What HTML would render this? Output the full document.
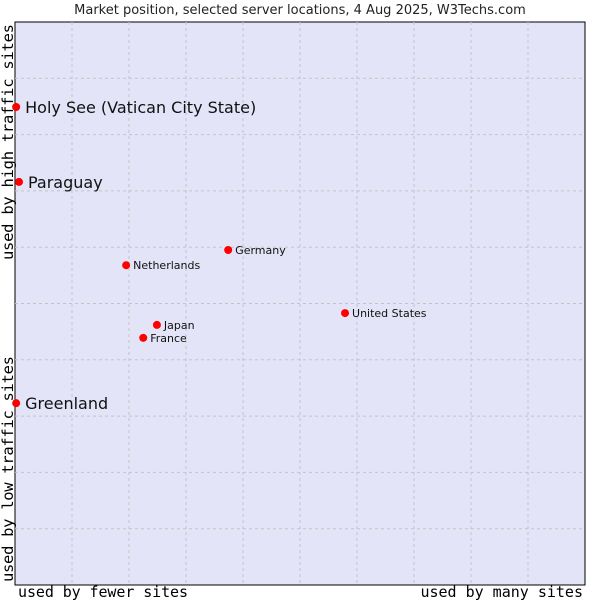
<!DOCTYPE html>
<html><head><meta charset="utf-8"><style>
body{margin:0;background:#fff;}
svg{display:block;font-family:"DejaVu Sans","Liberation Sans",sans-serif;}
</style></head><body>
<svg id="chart" width="600" height="600">
<text x="300" y="14" text-anchor="middle" font-size="13" fill="#222">Market position, selected server locations, 4 Aug 2025, W3Techs.com</text>
<rect x="15" y="22" width="570" height="563" fill="#e4e4f8" stroke="#000" stroke-width="1"/>
<g id="grid"></g>
<g id="pts"></g>
<text x="18" y="597" font-family="DejaVu Sans Mono,Liberation Mono,monospace" font-size="15" textLength="170">used by fewer sites</text>
<text x="583" y="597" text-anchor="end" font-family="DejaVu Sans Mono,Liberation Mono,monospace" font-size="15">used by many sites</text>
<text transform="translate(13,260) rotate(-90)" font-family="DejaVu Sans Mono,Liberation Mono,monospace" font-size="15.5" textLength="236">used by high traffic sites</text>
<text transform="translate(13,582) rotate(-90)" font-family="DejaVu Sans Mono,Liberation Mono,monospace" font-size="15.5" textLength="226">used by low traffic sites</text>
</svg>
<script>
const names=["Holy See (Vatican City State)","Paraguay","Greenland","Netherlands","Germany","United States","Japan","France"];
const xVals=[0.2,0.7,0.2,19.5,37.4,57.9,24.9,22.5];
const yVals=[84.9,71.6,32.3,56.8,59.5,48.3,46.2,43.9];
const bigLabel=[true,true,true,false,false,false,false,false];
const L=15,T=22,W=570,H=563;
const sx=v=>L+v/100*W, sy=v=>T+H-v/100*H;
const NS="http://www.w3.org/2000/svg";
const g=document.getElementById('grid');
for(let i=1;i<10;i++){
 const x=L+57*i;
 const l=document.createElementNS(NS,'line');
 l.setAttribute('x1',x);l.setAttribute('x2',x);l.setAttribute('y1',T);l.setAttribute('y2',T+H);
 l.setAttribute('stroke','#c4c4c4');l.setAttribute('stroke-dasharray','3,3');
 
 
 g.appendChild(l);
 const y=T+56.3*i;
 const h=document.createElementNS(NS,'line');
 h.setAttribute('x1',L);h.setAttribute('x2',L+W);h.setAttribute('y1',y);h.setAttribute('y2',y);
 h.setAttribute('stroke','#c4c4c4');h.setAttribute('stroke-dasharray','3,3');
 
 
 g.appendChild(h);
}
const p=document.getElementById('pts');
names.forEach((n,i)=>{
 const cx=sx(xVals[i]),cy=sy(yVals[i]);
 const c=document.createElementNS(NS,'circle');
 c.setAttribute('cx',cx);c.setAttribute('cy',cy);c.setAttribute('r',4);c.setAttribute('fill','#f00');
 
 
 p.appendChild(c);
 const t=document.createElementNS(NS,'text');
 t.setAttribute('x',cx+(bigLabel[i]?9:7));t.setAttribute('y',cy+(bigLabel[i]?6:4));
 t.setAttribute('font-size',bigLabel[i]?16:11);t.setAttribute('fill','#111');
 t.textContent=n;
 
 
 p.appendChild(t);
});
</script>
</body></html>
